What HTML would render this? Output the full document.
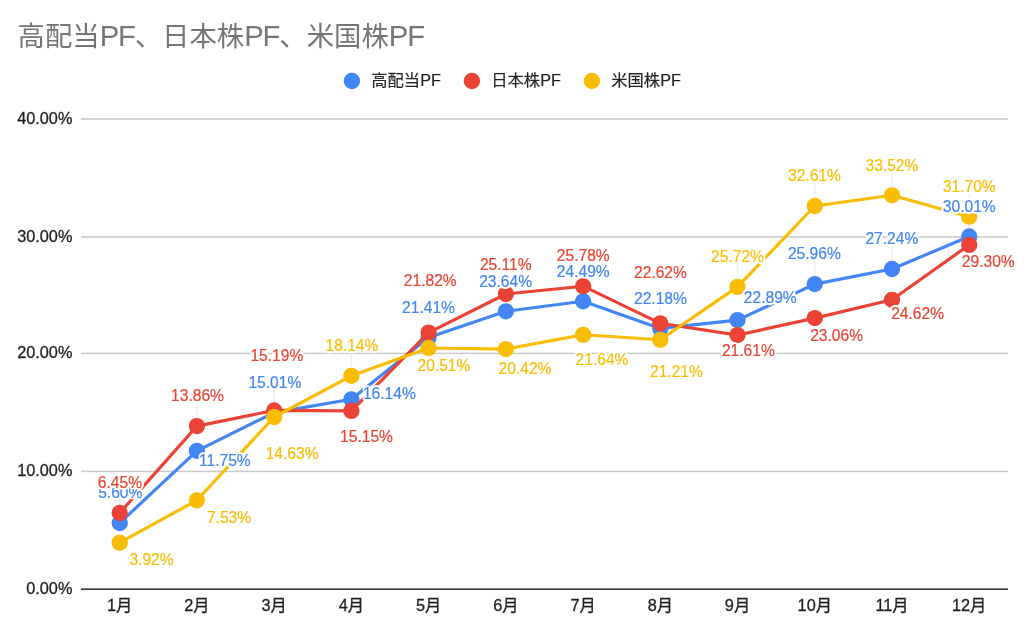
<!DOCTYPE html>
<html lang="ja"><head><meta charset="utf-8"><title>高配当PF、日本株PF、米国株PF</title>
<style>html,body{margin:0;padding:0;background:#fff}body{width:1024px;height:628px;overflow:hidden}svg{display:block}text{font-family:"Liberation Sans","Noto Sans CJK JP",sans-serif}.ax{font-size:16.3px;fill:#1f1f1f;stroke:#1f1f1f;stroke-width:.3px}.dl{font-size:15.6px;stroke-width:0.2px;filter:url(#halo)}.b{fill:#4285f4;stroke:#4285f4}.r{fill:#ea4335;stroke:#ea4335}.y{fill:#fbbc04;stroke:#fbbc04}.lg{font-size:16.3px;fill:#222;stroke:#222;stroke-width:.15px}.ttl{font-size:27.4px;fill:#757575}.pf{font-size:29.2px;letter-spacing:-1.15px}</style></head><body>
<svg width="1024" height="628" viewBox="0 0 1024 628">
<defs><filter id="halo" x="-10%" y="-40%" width="120%" height="180%" color-interpolation-filters="sRGB"><feGaussianBlur in="SourceAlpha" stdDeviation="1.5"/><feComponentTransfer><feFuncA type="linear" slope="12" intercept="-0.22"/></feComponentTransfer><feComponentTransfer result="h"><feFuncR type="linear" slope="0" intercept="1"/><feFuncG type="linear" slope="0" intercept="1"/><feFuncB type="linear" slope="0" intercept="1"/></feComponentTransfer><feMerge><feMergeNode in="h"/><feMergeNode in="SourceGraphic"/></feMerge></filter></defs>
<rect width="1024" height="628" fill="#fff"/>
<text class="ttl" x="17.5" y="46">高配当<tspan class="pf">PF</tspan>、日本株<tspan class="pf">PF</tspan>、米国株<tspan class="pf">PF</tspan></text>
<circle cx="351.9" cy="81" r="8.2" fill="#4285f4"/>
<text class="lg" x="371.3" y="86">高配当PF</text>
<circle cx="471.9" cy="81" r="8.2" fill="#ea4335"/>
<text class="lg" x="491.3" y="86">日本株PF</text>
<circle cx="591.9" cy="81" r="8.2" fill="#fbbc04"/>
<text class="lg" x="611.3" y="86">米国株PF</text>
<rect x="81" y="117.90" width="927" height="2.0" fill="#d2d2d2"/>
<rect x="81" y="235.90" width="927" height="2.0" fill="#d2d2d2"/>
<rect x="81" y="352.65" width="927" height="1.5" fill="#cbcbcb"/>
<rect x="81" y="470.65" width="927" height="1.5" fill="#cbcbcb"/>
<rect x="81" y="588.35" width="927" height="1.7" fill="#3a3a3a"/>
<text class="ax" x="72.4" y="593.9" text-anchor="end">0.00%</text>
<text class="ax" x="72.4" y="476.1" text-anchor="end">10.00%</text>
<text class="ax" x="72.4" y="358.1" text-anchor="end">20.00%</text>
<text class="ax" x="72.4" y="241.6" text-anchor="end">30.00%</text>
<text class="ax" x="72.4" y="123.6" text-anchor="end">40.00%</text>
<text class="ax" x="119.7" y="611" text-anchor="middle">1月</text>
<text class="ax" x="196.9" y="611" text-anchor="middle">2月</text>
<text class="ax" x="274.2" y="611" text-anchor="middle">3月</text>
<text class="ax" x="351.4" y="611" text-anchor="middle">4月</text>
<text class="ax" x="428.6" y="611" text-anchor="middle">5月</text>
<text class="ax" x="505.9" y="611" text-anchor="middle">6月</text>
<text class="ax" x="583.1" y="611" text-anchor="middle">7月</text>
<text class="ax" x="660.3" y="611" text-anchor="middle">8月</text>
<text class="ax" x="737.5" y="611" text-anchor="middle">9月</text>
<text class="ax" x="814.8" y="611" text-anchor="middle">10月</text>
<text class="ax" x="892.0" y="611" text-anchor="middle">11月</text>
<text class="ax" x="969.2" y="611" text-anchor="middle">12月</text>
<line x1="119.7" y1="523.0" x2="119.7" y2="499.5" stroke="#999" stroke-opacity=".15" stroke-width="1.6"/>
<line x1="274.2" y1="412.6" x2="274.2" y2="389.2" stroke="#999" stroke-opacity=".15" stroke-width="1.6"/>
<line x1="428.6" y1="337.5" x2="428.6" y2="314.5" stroke="#999" stroke-opacity=".15" stroke-width="1.6"/>
<line x1="505.9" y1="311.3" x2="505.9" y2="288.5" stroke="#999" stroke-opacity=".15" stroke-width="1.6"/>
<line x1="583.1" y1="301.3" x2="583.1" y2="278.5" stroke="#999" stroke-opacity=".15" stroke-width="1.6"/>
<line x1="660.3" y1="328.4" x2="660.3" y2="305.2" stroke="#999" stroke-opacity=".15" stroke-width="1.6"/>
<line x1="814.8" y1="284.1" x2="814.8" y2="261.0" stroke="#999" stroke-opacity=".15" stroke-width="1.6"/>
<line x1="892.0" y1="269.0" x2="892.0" y2="246.0" stroke="#999" stroke-opacity=".15" stroke-width="1.6"/>
<line x1="969.2" y1="236.5" x2="969.2" y2="213.8" stroke="#999" stroke-opacity=".15" stroke-width="1.6"/>
<line x1="119.7" y1="513.0" x2="119.7" y2="489.8" stroke="#999" stroke-opacity=".15" stroke-width="1.6"/>
<line x1="196.9" y1="426.1" x2="196.9" y2="402.8" stroke="#999" stroke-opacity=".15" stroke-width="1.6"/>
<line x1="505.9" y1="294.0" x2="505.9" y2="271.5" stroke="#999" stroke-opacity=".15" stroke-width="1.6"/>
<line x1="583.1" y1="286.2" x2="583.1" y2="262.8" stroke="#999" stroke-opacity=".15" stroke-width="1.6"/>
<line x1="351.4" y1="375.8" x2="351.4" y2="352.5" stroke="#999" stroke-opacity=".15" stroke-width="1.6"/>
<line x1="737.5" y1="286.9" x2="737.5" y2="264.0" stroke="#999" stroke-opacity=".15" stroke-width="1.6"/>
<line x1="814.8" y1="206.0" x2="814.8" y2="182.8" stroke="#999" stroke-opacity=".15" stroke-width="1.6"/>
<line x1="892.0" y1="195.3" x2="892.0" y2="172.2" stroke="#999" stroke-opacity=".15" stroke-width="1.6"/>
<line x1="969.2" y1="216.7" x2="969.2" y2="193.5" stroke="#999" stroke-opacity=".15" stroke-width="1.6"/>
<polyline points="119.7,523.0 196.9,450.8 274.2,412.6 351.4,399.3 428.6,337.5 505.9,311.3 583.1,301.3 660.3,328.4 737.5,320.1 814.8,284.1 892.0,269.0 969.2,236.5" fill="none" stroke="#4285f4" stroke-width="3.15" stroke-linejoin="round"/>
<circle cx="119.7" cy="523.0" r="8.15" fill="#4285f4"/>
<circle cx="196.9" cy="450.8" r="8.15" fill="#4285f4"/>
<circle cx="274.2" cy="412.6" r="8.15" fill="#4285f4"/>
<circle cx="351.4" cy="399.3" r="8.15" fill="#4285f4"/>
<circle cx="428.6" cy="337.5" r="8.15" fill="#4285f4"/>
<circle cx="505.9" cy="311.3" r="8.15" fill="#4285f4"/>
<circle cx="583.1" cy="301.3" r="8.15" fill="#4285f4"/>
<circle cx="660.3" cy="328.4" r="8.15" fill="#4285f4"/>
<circle cx="737.5" cy="320.1" r="8.15" fill="#4285f4"/>
<circle cx="814.8" cy="284.1" r="8.15" fill="#4285f4"/>
<circle cx="892.0" cy="269.0" r="8.15" fill="#4285f4"/>
<circle cx="969.2" cy="236.5" r="8.15" fill="#4285f4"/>
<polyline points="119.7,513.0 196.9,426.1 274.2,410.4 351.4,410.9 428.6,332.6 505.9,294.0 583.1,286.2 660.3,323.3 737.5,335.1 814.8,318.1 892.0,299.8 969.2,244.9" fill="none" stroke="#ea4335" stroke-width="3.15" stroke-linejoin="round"/>
<circle cx="119.7" cy="513.0" r="8.15" fill="#ea4335"/>
<circle cx="196.9" cy="426.1" r="8.15" fill="#ea4335"/>
<circle cx="274.2" cy="410.4" r="8.15" fill="#ea4335"/>
<circle cx="351.4" cy="410.9" r="8.15" fill="#ea4335"/>
<circle cx="428.6" cy="332.6" r="8.15" fill="#ea4335"/>
<circle cx="505.9" cy="294.0" r="8.15" fill="#ea4335"/>
<circle cx="583.1" cy="286.2" r="8.15" fill="#ea4335"/>
<circle cx="660.3" cy="323.3" r="8.15" fill="#ea4335"/>
<circle cx="737.5" cy="335.1" r="8.15" fill="#ea4335"/>
<circle cx="814.8" cy="318.1" r="8.15" fill="#ea4335"/>
<circle cx="892.0" cy="299.8" r="8.15" fill="#ea4335"/>
<circle cx="969.2" cy="244.9" r="8.15" fill="#ea4335"/>
<polyline points="119.7,542.7 196.9,500.3 274.2,417.0 351.4,375.8 428.6,348.0 505.9,349.1 583.1,334.8 660.3,339.8 737.5,286.9 814.8,206.0 892.0,195.3 969.2,216.7" fill="none" stroke="#fbbc04" stroke-width="3.15" stroke-linejoin="round"/>
<circle cx="119.7" cy="542.7" r="8.15" fill="#fbbc04"/>
<circle cx="196.9" cy="500.3" r="8.15" fill="#fbbc04"/>
<circle cx="274.2" cy="417.0" r="8.15" fill="#fbbc04"/>
<circle cx="351.4" cy="375.8" r="8.15" fill="#fbbc04"/>
<circle cx="428.6" cy="348.0" r="8.15" fill="#fbbc04"/>
<circle cx="505.9" cy="349.1" r="8.15" fill="#fbbc04"/>
<circle cx="583.1" cy="334.8" r="8.15" fill="#fbbc04"/>
<circle cx="660.3" cy="339.8" r="8.15" fill="#fbbc04"/>
<circle cx="737.5" cy="286.9" r="8.15" fill="#fbbc04"/>
<circle cx="814.8" cy="206.0" r="8.15" fill="#fbbc04"/>
<circle cx="892.0" cy="195.3" r="8.15" fill="#fbbc04"/>
<circle cx="969.2" cy="216.7" r="8.15" fill="#fbbc04"/>
<text class="dl b" x="98.2" y="497.8">5.60%</text>
<text class="dl b" x="199.0" y="466.0">11.75%</text>
<text class="dl b" x="248.4" y="387.5">15.01%</text>
<text class="dl b" x="362.9" y="398.5">16.14%</text>
<text class="dl b" x="402.1" y="312.8">21.41%</text>
<text class="dl b" x="479.2" y="286.8">23.64%</text>
<text class="dl b" x="556.8" y="276.8">24.49%</text>
<text class="dl b" x="634.0" y="303.5">22.18%</text>
<text class="dl b" x="743.8" y="302.6">22.89%</text>
<text class="dl b" x="787.9" y="259.2">25.96%</text>
<text class="dl b" x="865.4" y="244.2">27.24%</text>
<text class="dl b" x="942.8" y="212.0">30.01%</text>
<text class="dl r" x="97.8" y="488.0">6.45%</text>
<text class="dl r" x="171.1" y="401.0">13.86%</text>
<text class="dl r" x="250.4" y="360.8">15.19%</text>
<text class="dl r" x="340.1" y="442.0">15.15%</text>
<text class="dl r" x="403.8" y="286.0">21.82%</text>
<text class="dl r" x="479.9" y="269.8">25.11%</text>
<text class="dl r" x="556.8" y="261.0">25.78%</text>
<text class="dl r" x="634.0" y="278.0">22.62%</text>
<text class="dl r" x="721.9" y="355.5">21.61%</text>
<text class="dl r" x="810.2" y="340.5">23.06%</text>
<text class="dl r" x="891.2" y="319.2">24.62%</text>
<text class="dl r" x="961.8" y="267.0">29.30%</text>
<text class="dl y" x="129.4" y="564.5">3.92%</text>
<text class="dl y" x="206.9" y="523.0">7.53%</text>
<text class="dl y" x="265.7" y="459.4">14.63%</text>
<text class="dl y" x="325.5" y="350.8">18.14%</text>
<text class="dl y" x="417.5" y="371.0">20.51%</text>
<text class="dl y" x="498.6" y="374.0">20.42%</text>
<text class="dl y" x="575.6" y="364.8">21.64%</text>
<text class="dl y" x="650.0" y="376.8">21.21%</text>
<text class="dl y" x="711.1" y="262.2">25.72%</text>
<text class="dl y" x="788.0" y="181.0">32.61%</text>
<text class="dl y" x="865.5" y="170.5">33.52%</text>
<text class="dl y" x="942.8" y="191.8">31.70%</text>
</svg></body></html>
